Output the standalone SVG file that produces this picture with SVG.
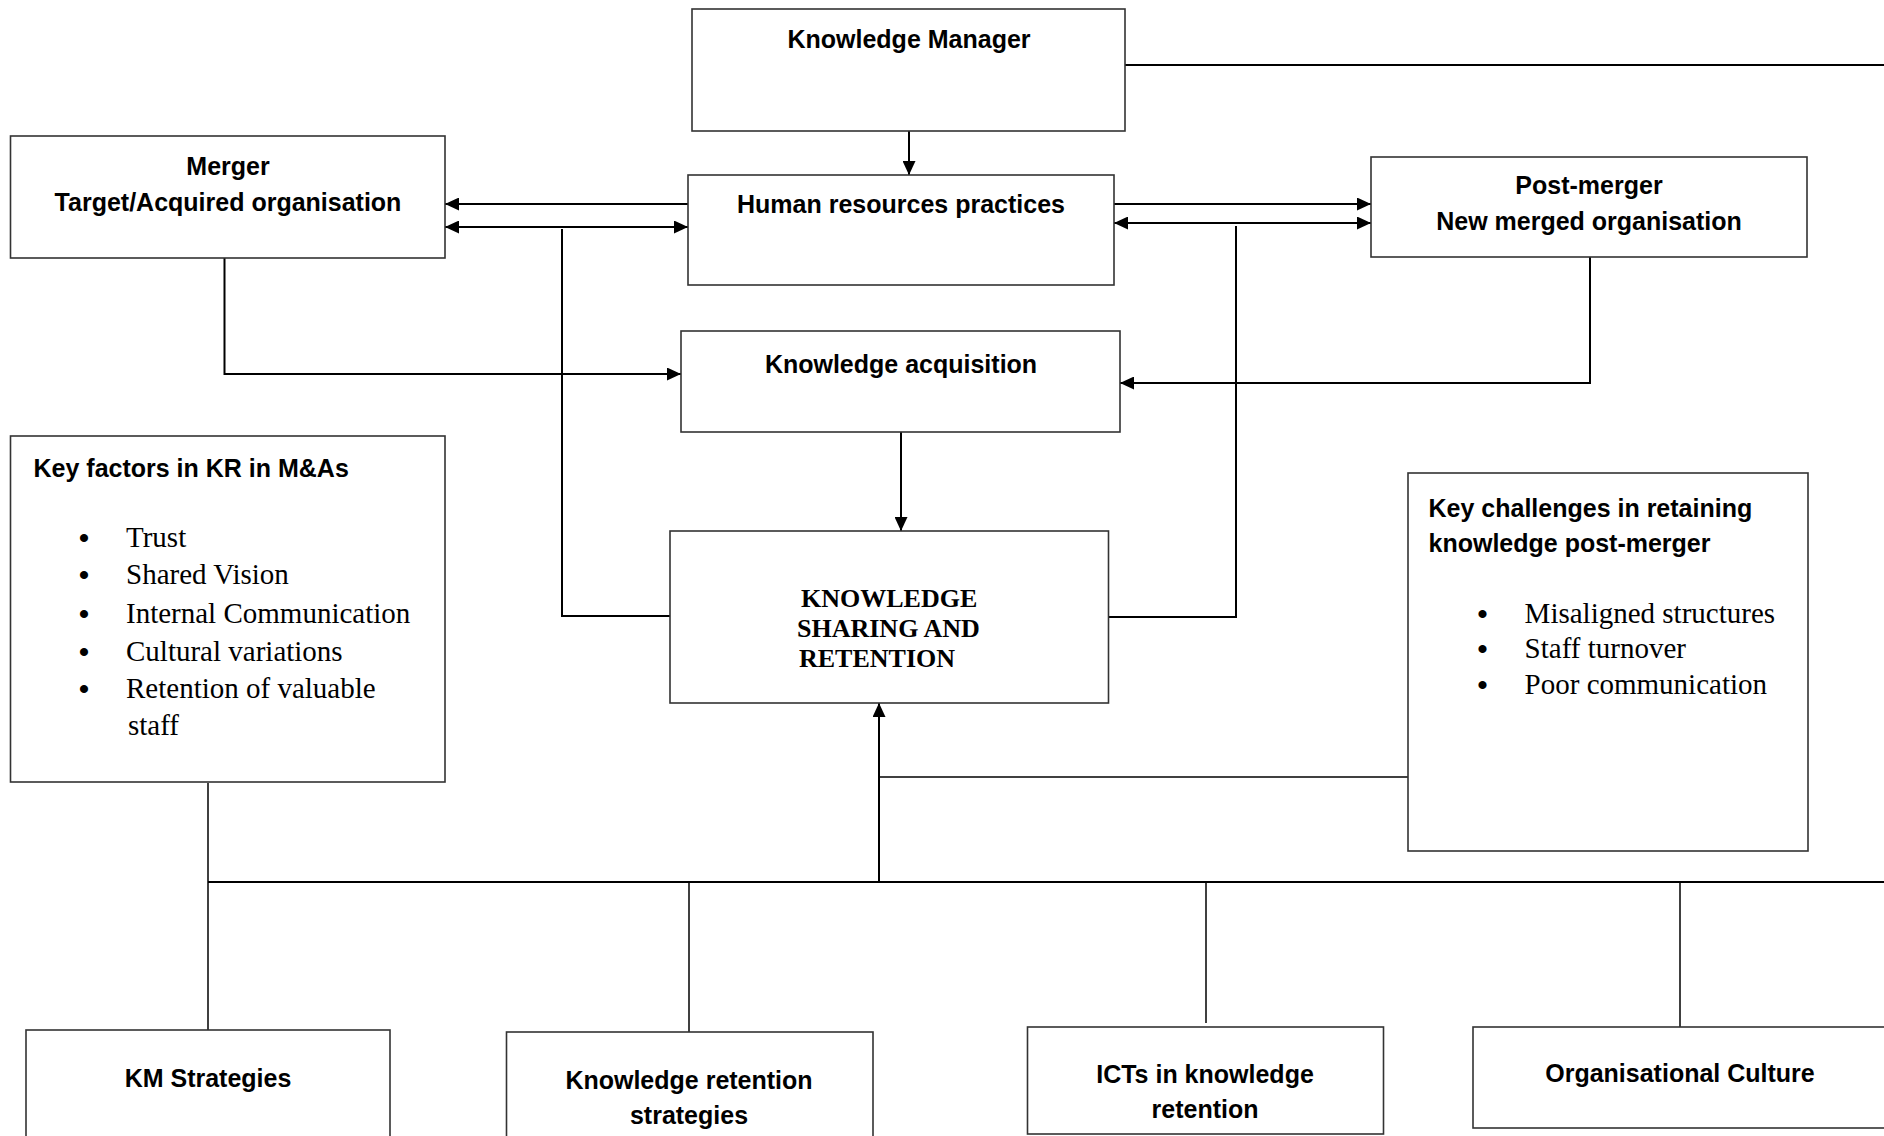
<svg xmlns="http://www.w3.org/2000/svg" width="1884" height="1136" viewBox="0 0 1884 1136">
<style>
.box{fill:#fff;stroke:#333;stroke-width:1.6}
.t{font-family:"Liberation Sans",Arial,sans-serif;font-weight:bold;font-size:25px;fill:#000}
.c{text-anchor:middle}
.s{font-family:"Liberation Serif","Times New Roman",serif;font-size:29px;fill:#000}
.b{font-family:"Liberation Serif","Times New Roman",serif;font-weight:bold;font-size:30px;fill:#000;text-anchor:middle}
.sb{font-family:"Liberation Serif","Times New Roman",serif;font-weight:bold;font-size:26px;fill:#000}
.ln{fill:none;stroke:#000;stroke-width:2}
.thin{fill:none;stroke:#000;stroke-width:1.5}
</style>
<defs>
<marker id="ah" markerUnits="userSpaceOnUse" markerWidth="15" markerHeight="13" refX="14" refY="6.5" orient="auto-start-reverse">
<path d="M0,0 L14,6.5 L0,13 z" fill="#000"/>
</marker>
</defs>
<rect width="1884" height="1136" fill="#fff"/>

<g id="connectors">
<line class="ln" x1="909" y1="131" x2="909" y2="175" marker-end="url(#ah)"/>
<line class="ln" x1="688" y1="204" x2="445" y2="204" marker-end="url(#ah)"/>
<line class="ln" x1="445" y1="227" x2="688" y2="227" marker-start="url(#ah)" marker-end="url(#ah)"/>
<line class="ln" x1="1114" y1="204" x2="1371" y2="204" marker-end="url(#ah)"/>
<line class="ln" x1="1114" y1="223" x2="1371" y2="223" marker-start="url(#ah)" marker-end="url(#ah)"/>
<polyline class="ln" points="562,229 562,616 670,616"/>
<polyline class="ln" points="1108,617 1236,617 1236,226"/>
<polyline class="ln" points="224.5,258 224.5,374 681,374" marker-end="url(#ah)"/>
<polyline class="ln" points="1590,257 1590,383 1120,383" marker-end="url(#ah)"/>
<line class="ln" x1="901" y1="432" x2="901" y2="531" marker-end="url(#ah)"/>
<line class="ln" x1="1125" y1="65" x2="1884" y2="65"/>
<line class="ln" x1="208" y1="882" x2="1884" y2="882"/>
<line class="thin" x1="208" y1="783" x2="208" y2="1030"/>
<line class="thin" x1="689" y1="883" x2="689" y2="1032"/>
<line class="thin" x1="1206" y1="883" x2="1206" y2="1023"/>
<line class="thin" x1="1680" y1="883" x2="1680" y2="1027"/>
<line class="ln" x1="879" y1="882" x2="879" y2="703" marker-end="url(#ah)"/>
<line class="thin" x1="879" y1="777" x2="1408" y2="777"/>
</g>

<g id="knowledge-manager">
<rect class="box" x="692" y="9" width="433" height="122"/>
<text class="t c" x="909" y="48">Knowledge Manager</text>
</g>

<g id="merger">
<rect class="box" x="10.5" y="136" width="434.5" height="122"/>
<text class="t c" x="228" y="175">Merger</text>
<text class="t c" x="228" y="211">Target/Acquired organisation</text>
</g>

<g id="hr-practices">
<rect class="box" x="688" y="175" width="426" height="110"/>
<text class="t c" x="901" y="213">Human resources practices</text>
</g>

<g id="post-merger">
<rect class="box" x="1371" y="157" width="436" height="100"/>
<text class="t c" x="1589" y="194">Post-merger</text>
<text class="t c" x="1589" y="230">New merged organisation</text>
</g>

<g id="knowledge-acquisition">
<rect class="box" x="681" y="331" width="439" height="101"/>
<text class="t c" x="901" y="373">Knowledge acquisition</text>
</g>

<g id="knowledge-sharing-retention">
<rect class="box" x="670" y="531" width="438.5" height="172"/>
<text class="sb" x="801" y="607">KNOWLEDGE</text>
<text class="sb" x="797" y="637">SHARING AND</text>
<text class="sb" x="799" y="667">RETENTION</text>
</g>

<g id="key-factors">
<rect class="box" x="10.5" y="436" width="434.5" height="346"/>
<text class="t" x="33.5" y="477">Key factors in KR in M&amp;As</text>
<text class="b" x="84" y="548">•</text><text class="s" x="126" y="547">Trust</text>
<text class="b" x="84" y="585">•</text><text class="s" x="126" y="584">Shared Vision</text>
<text class="b" x="84" y="624">•</text><text class="s" x="126" y="623">Internal Communication</text>
<text class="b" x="84" y="662">•</text><text class="s" x="126" y="661">Cultural variations</text>
<text class="b" x="84" y="699">•</text><text class="s" x="126" y="698">Retention of valuable</text>
<text class="s" x="128" y="735">staff</text>
</g>

<g id="key-challenges">
<rect class="box" x="1408" y="473" width="400" height="378"/>
<text class="t" x="1428.5" y="517">Key challenges in retaining</text>
<text class="t" x="1428.5" y="552">knowledge post-merger</text>
<text class="b" x="1482.5" y="624">•</text><text class="s" x="1524.6" y="623">Misaligned structures</text>
<text class="b" x="1482.5" y="659">•</text><text class="s" x="1524.6" y="658">Staff turnover</text>
<text class="b" x="1482.5" y="695">•</text><text class="s" x="1524.6" y="694">Poor communication</text>
</g>

<g id="km-strategies">
<rect class="box" x="26" y="1030" width="364" height="120"/>
<text class="t c" x="208" y="1087">KM Strategies</text>
</g>

<g id="knowledge-retention-strategies">
<rect class="box" x="506.5" y="1032" width="366.5" height="120"/>
<text class="t c" x="689" y="1089">Knowledge retention</text>
<text class="t c" x="689" y="1124">strategies</text>
</g>

<g id="icts">
<rect class="box" x="1027.5" y="1027" width="356" height="107"/>
<text class="t c" x="1205" y="1083">ICTs in knowledge</text>
<text class="t c" x="1205" y="1118">retention</text>
</g>

<g id="organisational-culture">
<rect class="box" x="1473" y="1027" width="430" height="101"/>
<text class="t c" x="1680" y="1082">Organisational Culture</text>
</g>
</svg>
